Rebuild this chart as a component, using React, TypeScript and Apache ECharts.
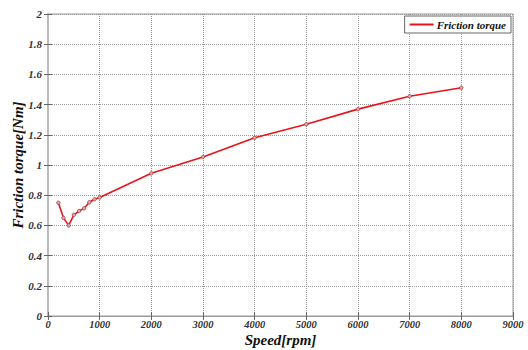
import React, { useEffect, useRef } from "react";
import * as echarts from "echarts";

const speeds = [200, 300, 400, 500, 600, 700, 800, 900, 1000, 2000, 3000, 4000, 5000, 6000, 7000, 8000];
const torque = [0.75, 0.65, 0.6, 0.67, 0.695, 0.713, 0.753, 0.773, 0.785, 0.945, 1.053, 1.18, 1.27, 1.37, 1.455, 1.512];
const seriesName = "Friction torque";
const xName = "Speed[rpm]";
const yName = "Friction torque[Nm]";

const FONT = "Liberation Serif";

export default function App() {
  const ref = useRef<HTMLDivElement>(null);
  useEffect(() => {
    if (!ref.current) return;
    const chart = echarts.init(ref.current, undefined, { renderer: "svg" });
    const labelStyle = { fontFamily: FONT, fontWeight: "bold" as const, fontStyle: "italic" as const, fontSize: 11, color: "#333" };
    const gridLine = { show: true, lineStyle: { type: [1, 1] as any, color: "#999", width: 1 } };
    chart.setOption({
      animation: false,
      backgroundColor: "#fff",
      textStyle: { fontFamily: FONT },
      grid: { left: 48, right: 15, top: 14, bottom: 34, show: true, borderColor: "#999", borderWidth: 1, outerBoundsMode: "none" },
      legend: {
        right: 17,
        top: 16,
        data: [{ name: seriesName, icon: "rect", itemStyle: { color: "#e8141b", borderWidth: 0 } }],
        itemStyle: { color: "#e8141b", borderWidth: 0 },
        itemWidth: 24,
        itemHeight: 2,
        itemGap: 4,
        padding: [3, 5, 3, 5],
        borderColor: "#666",
        borderWidth: 1,
        borderRadius: 0,
        backgroundColor: "#fff",
        textStyle: { ...labelStyle, fontSize: 11, color: "#111", padding: [0, 0, 0, -2] },
      },
      xAxis: [
        {
          type: "value",
          min: 0,
          max: 9000,
          interval: 1000,
          name: xName,
          nameLocation: "middle",
          nameGap: 16,
          nameMoveOverlap: false,
          nameTextStyle: { fontFamily: FONT, fontWeight: "bold", fontStyle: "italic", fontSize: 15, color: "#111", lineHeight: 15 },
          axisLine: { show: true, lineStyle: { color: "#999" } },
          axisTick: { show: true, inside: true, length: 4, lineStyle: { color: "#666" } },
          axisLabel: { ...labelStyle, fontSize: 10.5, lineHeight: 11, margin: 3, formatter: (v: number) => String(v) },
          splitLine: gridLine,
        },
        {
          type: "value",
          position: "top",
          min: 0,
          max: 9000,
          interval: 1000,
          axisLine: { show: true, lineStyle: { color: "#999" } },
          axisTick: { show: true, inside: true, length: 4, lineStyle: { color: "#666" } },
          axisLabel: { show: false },
          splitLine: { show: false },
        },
      ],
      yAxis: [
        {
          type: "value",
          min: 0,
          max: 2,
          interval: 0.2,
          name: yName,
          nameLocation: "middle",
          nameGap: 23,
          nameMoveOverlap: false,
          nameTextStyle: { fontFamily: FONT, fontWeight: "bold", fontStyle: "italic", fontSize: 15, color: "#111" },
          axisLine: { show: true, lineStyle: { color: "#999" } },
          axisTick: { show: true, inside: true, length: 4, lineStyle: { color: "#666" } },
          axisLabel: { ...labelStyle, margin: 6 },
          splitLine: gridLine,
        },
        {
          type: "value",
          position: "right",
          min: 0,
          max: 2,
          interval: 0.2,
          axisLine: { show: true, lineStyle: { color: "#bbb", width: 2 } },
          axisTick: { show: true, inside: true, length: 4, lineStyle: { color: "#666" } },
          axisLabel: { show: false },
          splitLine: { show: false },
        },
      ],
      series: [
        {
          name: seriesName,
          type: "line",
          data: speeds.map((s, i) => [s, torque[i]]),
          lineStyle: { color: "#e8141b", width: 1.6 },
          itemStyle: { color: "#f0a0a0", borderColor: "#8a4a4a", borderWidth: 0.8 },
          symbol: "circle",
          symbolSize: 3.5,
          showSymbol: true,
        },
      ],
    });
    return () => chart.dispose();
  }, []);
  return <div ref={ref} style={{ width: 528, height: 350, position: "absolute", left: 0, top: 0 }} />;
}
